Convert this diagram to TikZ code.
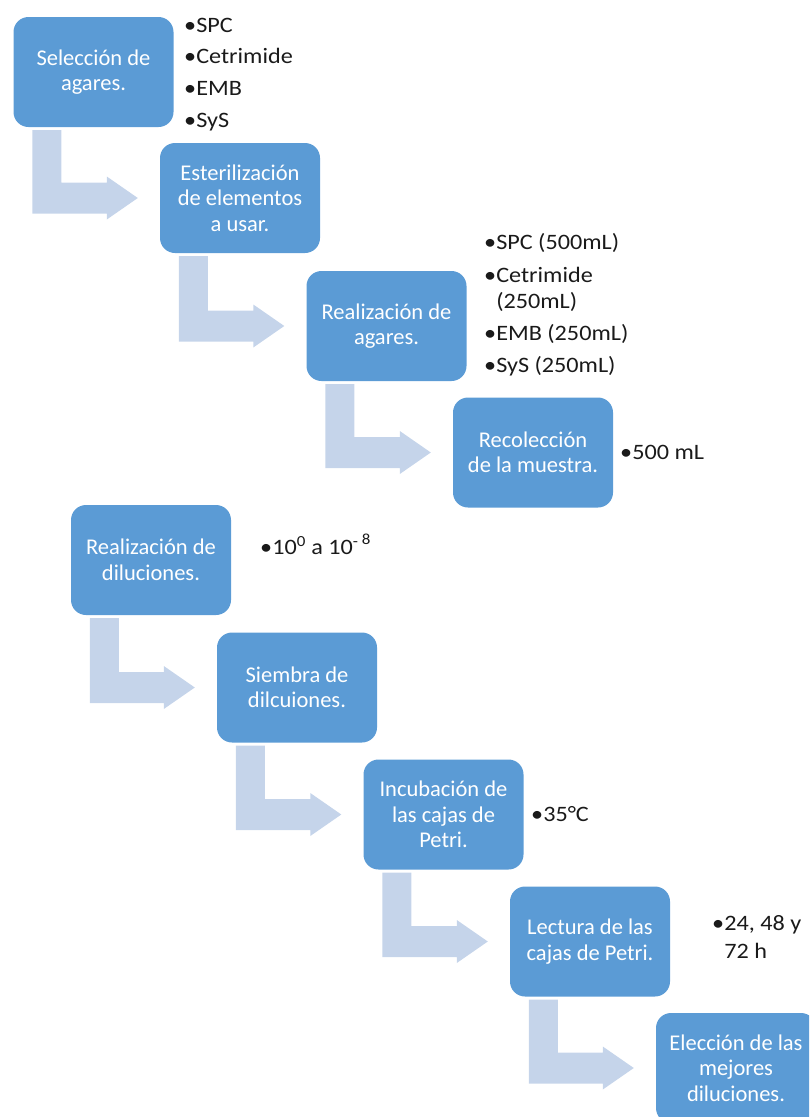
\documentclass[tikz,border=0pt]{standalone}
\usepackage{fontspec}
\setmainfont{Carlito}
\newfontfamily\listfamily[FakeStretch=1.1]{Carlito}
\usetikzlibrary{calc}
\definecolor{boxblue}{HTML}{5B9BD5}
\definecolor{arrowfill}{HTML}{C5D4EA}
\definecolor{listtext}{HTML}{1A1A1A}

% bent arrow from the bottom of box #1 to the left side of box #2
\newcommand\bentarrow[2]{%
  \fill[arrowfill] let \p1=(#1.south west), \p2=(#2.west) in
    (\x1+19pt,\y1-3pt) -- (\x1+48pt,\y1-3pt) -- (\x1+48pt,\y2+15.5pt)
    -- (\x2-53pt,\y2+15.5pt) -- (\x2-53pt,\y2+21.5pt) -- (\x2-22pt,\y2)
    -- (\x2-53pt,\y2-21.5pt) -- (\x2-53pt,\y2-15.5pt) -- (\x1+19pt,\y2-15.5pt) -- cycle;}

\tikzset{
  stepbox/.style={rectangle, rounded corners=15pt, fill=boxblue, draw=none,
    minimum width=160pt, minimum height=110pt, inner sep=0pt, align=center,
    text=white, font=\fontsize{22.5}{25.5}\selectfont},
  listitem/.style={anchor=base west, inner sep=0pt, text=listtext,
    font=\listfamily\fontsize{22}{28}\selectfont}
}

\begin{document}
\begin{tikzpicture}[x=1pt, y=-1pt]
\useasboundingbox (0,0) rectangle (809,1117);
\clip (0,0) rectangle (809,1117);

% process steps
\node[stepbox] (b1) at (93.5,72)   {Selección de\\agares.};
\node[stepbox] (b2) at (240,198)   {Esterilización\\de elementos\\a usar.};
\node[stepbox] (b3) at (386.5,326) {Realización de\\agares.};
\node[stepbox] (b4) at (533,452.5) {Recolección\\de la muestra.};
\node[stepbox] (b5) at (151,560)   {Realización de\\diluciones.};
\node[stepbox] (b6) at (297,687.5) {Siembra de\\dilcuiones.};
\node[stepbox] (b7) at (443.5,814.5) {Incubación de\\las cajas de\\Petri.};
\node[stepbox] (b8) at (590,941.5) {Lectura de las\\cajas de Petri.};
\node[stepbox] (b9) at (736,1068)  {Elección de las\\mejores\\diluciones.};

% connectors
\bentarrow{b1}{b2}
\bentarrow{b2}{b3}
\bentarrow{b3}{b4}
\bentarrow{b5}{b6}
\bentarrow{b6}{b7}
\bentarrow{b7}{b8}
\bentarrow{b8}{b9}

% side notes
\node[listitem] (l1a) at (184,32)   {•SPC};
\node[listitem] (l1b) at (184,63.5) {•Cetrimide};
\node[listitem] (l1c) at (184,95)   {•EMB};
\node[listitem] (l1d) at (184,127)  {•SyS};

\node[listitem] (l3a) at (484,249) {•SPC (500mL)};
\node[listitem] (l3b) at (484,282) {•Cetrimide};
\node[listitem] (l3c) at (484,308) {\phantom{•}(250mL)};
\node[listitem] (l3d) at (484,340) {•EMB (250mL)};
\node[listitem] (l3e) at (484,372) {•SyS (250mL)};

\node[listitem] (l4) at (620,459) {•500 mL};
\node[listitem] (l5) at (260,554) {•10\textsuperscript{0} a 10\textsuperscript{-~\raisebox{2pt}{8}}};
\node[listitem] (l7) at (531,821) {•35°C};
\node[listitem] (l8a) at (712,930) {•24, 48 y};
\node[listitem] (l8b) at (712,958) {\phantom{•}72 h};
\end{tikzpicture}
\end{document}
